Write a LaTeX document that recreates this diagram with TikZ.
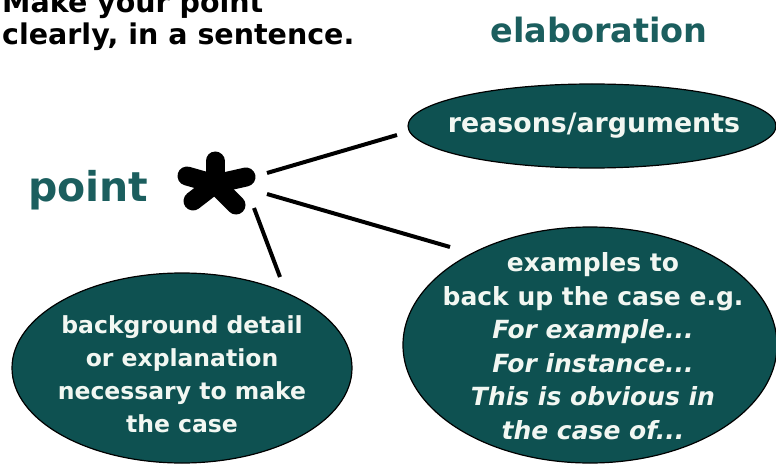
\documentclass[tikz,border=0pt]{standalone}
\usepackage{fontspec}
\setmainfont{DejaVu Sans}
\usetikzlibrary{shapes.geometric}
\definecolor{titleteal}{HTML}{1B5E5E}
\definecolor{ellfill}{HTML}{0E5151}
\definecolor{elltext}{HTML}{F2F7F2}
\begin{document}
\begin{tikzpicture}[x=1pt,y=-1pt,
  bubble/.style={ellipse, draw=black, line width=1.2pt, fill=ellfill, inner sep=0pt},
  btext/.style={text=elltext, font=\fontsize{26}{33}\selectfont\bfseries, align=center, inner sep=0pt},
  heading/.style={text=titleteal, inner sep=0pt},
  blacktext/.style={text=black, font=\fontsize{28.5}{32}\selectfont\bfseries, inner sep=0pt},
  conn/.style={line width=4pt},
  arm/.style={line width=19pt, line cap=round}
]
\useasboundingbox (0,0) rectangle (776,465);
\clip (0,0) rectangle (776,465);

% top-left instruction
\node[blacktext, anchor=base west] (make) at (2,13) {Make your point};
\node[blacktext, anchor=base west] (clearly) at (2,45) {clearly, in a sentence.};

% headings
\node[heading, font=\fontsize{33.5}{40}\selectfont\bfseries, anchor=base] (elab) at (599,43) {elaboration};
\node[heading, font=\fontsize{41}{46}\selectfont\bfseries, anchor=base west] (point) at (28,202) {point};

% star
\coordinate (star) at (215,184);
\foreach \p in {(215,161),(187,176),(246,177),(193,201),(236,205)}
  \draw[arm] (star) -- \p;

% ellipses
\node[bubble, minimum width=368pt, minimum height=84pt] (reasons) at (592,126) {};
\node[bubble, minimum width=340pt, minimum height=190pt] (background) at (182,368) {};
\node[bubble, minimum width=374pt, minimum height=236pt] (examples) at (590,345) {};

% texts
\node[btext, font=\fontsize{26.8}{33}\selectfont\bfseries, anchor=base] (reasonsT) at (594,133) {reasons/arguments};
\node[btext, font=\fontsize{23.5}{33}\selectfont\bfseries] (backgroundT) at (182,374) {background detail\\or explanation\\necessary to make\\the case};
\node[btext, font=\fontsize{25}{33.5}\selectfont\bfseries] (examplesT) at (593,346) {examples to\\back up the case e.g.\\\textit{For example...}\\\textit{For instance...}\\\textit{This is obvious in}\\\textit{the case of...}};

% connectors
\coordinate (s1) at (267,173); \coordinate (e1) at (397,135);
\coordinate (s2) at (267,194); \coordinate (e2) at (450,247);
\coordinate (s3) at (254,208); \coordinate (e3) at (280,277);
\draw[conn] (s1) -- (e1);
\draw[conn] (s2) -- (e2);
\draw[conn] (s3) -- (e3);
\end{tikzpicture}
\end{document}
